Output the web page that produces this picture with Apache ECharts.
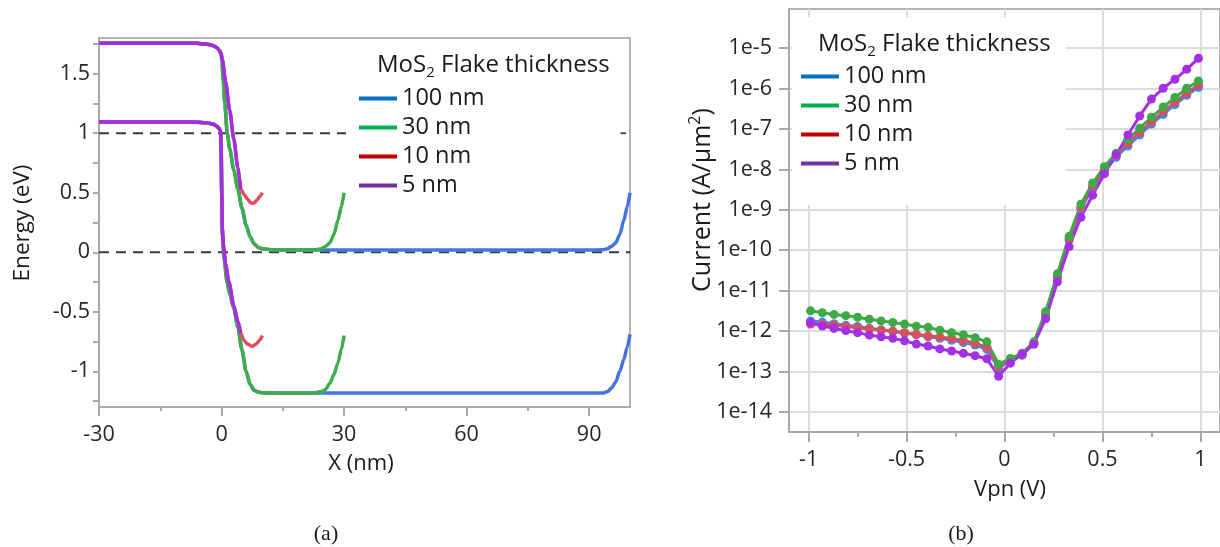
<!DOCTYPE html>
<html>
<head>
<meta charset="utf-8">
<script src="https://cdn.jsdelivr.net/npm/echarts@6/dist/echarts.min.js"></script>
<style>
html,body{margin:0;padding:0;background:#fff;}
#c{width:1220px;height:547px;}
</style>
</head>
<body>
<div id="c"></div>
<script>
// ---------- names & colours ----------
const thicknessNames = ['100 nm', '30 nm', '10 nm', '5 nm'];
const legendColors = ['#0070C0', '#00B050', '#C00000', '#7030A0'];
const bandColors = ['#4573E3', '#3DAE4A', '#DE4E5E', '#A02EE2'];
const ivColors = ['#4A84E4', '#3DAA45', '#D94F5C', '#A42FE5'];

// ---------- (a) band diagram, [x (nm), E (eV)] ----------
const cbLeft = [[-30,1.755],[-6,1.755],[-4,1.75],[-3,1.745],[-2,1.735],[-1.2,1.72],[-0.6,1.70],[-0.1,1.67]];
const vbLeft = [[-30,1.095],[-10,1.095],[-6,1.093],[-4,1.088],[-3,1.083],[-2,1.075],[-1.2,1.06],[-0.6,1.04],[-0.25,1.02],[-0.1,0.9],[0.05,0.5]];

const cb100R = [[0.1,1.6],[0.4,1.45],[0.8,1.25],[1.4,1.0],[2,0.87],[3,0.69],[4,0.53],[5,0.37],[6,0.23],[7,0.13],[8,0.07],[9,0.04],[10,0.03],[12,0.022],[15,0.02],[30,0.02],[60,0.02],[92,0.02],[93.5,0.022],[94.5,0.03],[95.5,0.05],[96.5,0.08],[97.5,0.15],[98.5,0.27],[99.3,0.38],[100,0.5]];
const vb100R = [[0.2,0.15],[0.6,-0.05],[1.4,-0.26],[2,-0.35],[3,-0.47],[4,-0.63],[5,-0.82],[6,-1.0],[7,-1.11],[8,-1.16],[9,-1.175],[10,-1.18],[15,-1.183],[60,-1.183],[93.5,-1.182],[94.5,-1.17],[95.5,-1.14],[96.5,-1.09],[97.5,-1.0],[98.5,-0.9],[99.3,-0.8],[100,-0.69]];

const cb30R = [[0.1,1.6],[0.4,1.45],[0.8,1.25],[1.4,1.0],[2,0.87],[3,0.69],[4,0.53],[5,0.37],[6,0.23],[7,0.13],[8,0.07],[9,0.04],[10,0.03],[12,0.022],[15,0.018],[20,0.018],[23,0.022],[24.5,0.03],[25.5,0.05],[26.5,0.08],[27.5,0.15],[28.5,0.27],[29.3,0.38],[30,0.5]];
const vb30R = [[0.2,0.15],[0.6,-0.05],[1.4,-0.26],[2,-0.35],[3,-0.47],[4,-0.63],[5,-0.82],[6,-1.0],[7,-1.11],[8,-1.16],[9,-1.175],[10,-1.18],[15,-1.185],[22,-1.185],[24.5,-1.17],[25.5,-1.15],[26.5,-1.1],[27.5,-1.03],[28.5,-0.93],[29.3,-0.82],[30,-0.7]];

const cb10R = [[0.2,1.62],[1,1.43],[2,1.19],[3,0.95],[4,0.71],[4.7,0.53],[5.5,0.485],[6.3,0.45],[7,0.42],[7.5,0.41],[8,0.415],[8.7,0.44],[9.4,0.47],[10,0.5]];
const vb10R = [[0.2,0.2],[0.5,0.05],[1,-0.1],[1.8,-0.25],[3,-0.45],[4,-0.58],[4.7,-0.68],[5.5,-0.74],[6.3,-0.77],[7.5,-0.79],[8.5,-0.77],[9.3,-0.74],[10,-0.70]];

const cb5R = [[0.2,1.62],[1,1.43],[2,1.19],[3,0.95],[4,0.71],[4.7,0.53]];
const vb5R = [[0.2,0.2],[0.5,0.05],[1,-0.1],[1.8,-0.25],[3,-0.45],[4,-0.58],[4.7,-0.68]];

// dashed reference levels (E = 1 eV is hidden behind the legend box between ~31 and ~98 nm)
const refLevels = [1, 0];
const refSpans = [[[-30, 30.6], [97.7, 99]], [[-30, 100]]];
const posTicks = [-30, 0, 30, 60, 90];
const posMinorTicks = [-15, 15, 45, 75];
const energyLabels = [-1, -0.5, 0, 0.5, 1, 1.5];
const energyTicks = [-1.25, -1, -0.75, -0.5, -0.25, 0, 0.25, 0.5, 0.75, 1, 1.25, 1.5, 1.75];

// ---------- (b) I-V curves ----------
const vpn = [-0.99,-0.93,-0.87,-0.81,-0.75,-0.69,-0.63,-0.57,-0.51,-0.45,-0.39,-0.33,-0.27,-0.21,-0.15,-0.09,
             -0.03,0.03,0.09,0.15,0.21,0.27,0.33,0.39,0.45,0.51,0.57,0.63,0.69,0.75,0.81,0.87,0.93,0.99];
const cur100 = [1.78e-12,1.66e-12,1.51e-12,1.38e-12,1.29e-12,1.17e-12,1.07e-12,9.8e-13,8.9e-13,8.1e-13,7.2e-13,6.6e-13,5.9e-13,5.2e-13,4.5e-13,3.5e-13,
                1.2e-13,1.9e-13,2.5e-13,5.0e-13,2.5e-12,2.1e-11,1.78e-10,1.05e-9,3.5e-9,9.3e-9,2.0e-8,3.8e-8,7.1e-8,1.32e-7,2.3e-7,4.0e-7,6.8e-7,1.07e-6];
const cur30 = [3.16e-12,2.82e-12,2.57e-12,2.40e-12,2.19e-12,1.95e-12,1.78e-12,1.62e-12,1.48e-12,1.32e-12,1.23e-12,1.05e-12,9.1e-13,8.1e-13,6.8e-13,5.4e-13,
               1.5e-13,2.1e-13,2.8e-13,5.4e-13,3.0e-12,2.6e-11,2.2e-10,1.38e-9,4.6e-9,1.17e-8,2.5e-8,5.6e-8,1.05e-7,1.95e-7,3.5e-7,6.0e-7,1.02e-6,1.55e-6];
const cur10 = [1.48e-12,1.45e-12,1.38e-12,1.29e-12,1.2e-12,1.12e-12,1.05e-12,9.8e-13,9.1e-13,8.3e-13,7.6e-13,7.1e-13,6.5e-13,5.8e-13,5.0e-13,4.0e-13,
               1.32e-13,1.9e-13,2.6e-13,5.1e-13,2.7e-12,2.2e-11,1.9e-10,1.15e-9,3.9e-9,1.02e-8,2.2e-8,4.4e-8,8.1e-8,1.51e-7,2.7e-7,4.6e-7,7.8e-7,1.23e-6];
const cur5 = [1.6e-12,1.33e-12,1.16e-12,1.02e-12,9.1e-13,7.9e-13,7.2e-13,6.6e-13,5.7e-13,4.75e-13,4.25e-13,3.6e-13,3.2e-13,2.8e-13,2.45e-13,2.05e-13,
              7.6e-14,1.6e-13,2.7e-13,4.7e-13,2.0e-12,1.66e-11,1.23e-10,6.5e-10,2.3e-9,7.8e-9,2.3e-8,7.1e-8,2.1e-7,5.5e-7,1.02e-6,1.7e-6,3.0e-6,5.6e-6];
const voltLabels = [-1, -0.5, 0, 0.5, 1];
const voltMinorTicks = [-0.75, -0.25, 0.25, 0.75];
const decadeExps = [-14, -13, -12, -11, -10, -9, -8, -7, -6, -5];

// ---------- build ----------
const FONT = "'Open Sans', 'Noto Sans', sans-serif";
const SERIF = "'Liberation Serif', 'DejaVu Serif', serif";
const AXIS_COLOR = '#a9a9a9';
const LABEL_COLOR = '#262626';
const TEXT_COLOR = '#1a1a1a';
const TICK_FS = 21.5;
const LEG_FS = 23.5;

const cbRight = [cb100R, cb30R, cb10R, cb5R];
const vbRight = [vb100R, vb30R, vb10R, vb5R];
const currents = [cur100, cur30, cur10, cur5];

const series = [];
refLevels.forEach(function (lvl, li) {
  refSpans[li].forEach(function (span, si) {
    series.push({
      type: 'line', name: 'ref' + lvl + '_' + si, xAxisIndex: 0, yAxisIndex: 0,
      data: [[span[0], lvl], [span[1], lvl]], symbol: 'none', silent: true, z: 1,
      lineStyle: { color: '#3a3a3a', width: 1.8, type: [10, 7] }
    });
  });
});
for (let k = 0; k < 4; k++) {
  [cbLeft.concat(cbRight[k]), vbLeft.concat(vbRight[k])].forEach(function (d) {
    series.push({
      type: 'line', name: thicknessNames[k], xAxisIndex: 0, yAxisIndex: 0,
      data: d, symbol: 'none', showSymbol: false, smooth: 0.25, smoothMonotone: 'x', z: 3,
      lineStyle: { color: bandColors[k], width: 3.5 }, itemStyle: { color: bandColors[k] }
    });
  });
}
[0, 2, 1, 3].forEach(function (k) {
  series.push({
    type: 'line', name: thicknessNames[k], xAxisIndex: 2, yAxisIndex: 1,
    data: vpn.map(function (v, i) { return [v, Math.log10(currents[k][i])]; }),
    symbol: 'circle', symbolSize: 9, showSymbol: true, z: 3,
    lineStyle: { color: ivColors[k], width: 3 }, itemStyle: { color: ivColors[k] }
  });
});

function legendData() {
  return thicknessNames.map(function (n, k) {
    return { name: n, itemStyle: { color: legendColors[k], borderWidth: 0 } };
  });
}
function legendCfg(left, top, padding) {
  return {
    left: left, top: top, orient: 'vertical', padding: padding, backgroundColor: '#ffffff',
    icon: 'rect', itemWidth: 38, itemHeight: 4, itemGap: 4, selectedMode: false,
    textStyle: { fontFamily: FONT, fontSize: LEG_FS, color: TEXT_COLOR, lineHeight: 25 },
    data: legendData()
  };
}
function axisLineCfg() { return { show: true, onZero: false, lineStyle: { color: AXIS_COLOR, width: 2 } }; }
function labelCfg(vals, margin, extra) {
  return Object.assign({ customValues: vals, fontFamily: FONT, fontSize: TICK_FS, color: LABEL_COLOR, margin: margin }, extra || {});
}
function tickCfg(vals, len) { return { show: true, customValues: vals, length: len, lineStyle: { color: AXIS_COLOR, width: 2 } }; }

const legendTitleRich = {
  a: { fontFamily: FONT, fontSize: 24, fontWeight: 'normal', color: TEXT_COLOR, lineHeight: 30, verticalAlign: 'middle' },
  s: { fontFamily: FONT, fontSize: 15, fontWeight: 'normal', color: TEXT_COLOR, lineHeight: 15, verticalAlign: 'bottom' }
};
function legendTitle(left, top) {
  return { text: '{a|MoS}{s|2}{a| Flake thickness}', left: left, top: top, padding: 0, z: 8,
           textStyle: { rich: legendTitleRich, fontFamily: FONT, fontSize: 24, fontWeight: 'normal', color: TEXT_COLOR } };
}
function txt(x, y, text, size, rot, family) {
  return {
    type: 'text', x: x, y: y, rotation: rot || 0, z: 5, silent: true,
    style: { text: text, fontFamily: family || FONT, fontSize: size, fill: TEXT_COLOR, align: 'center', verticalAlign: 'middle' }
  };
}

const option = {
  animation: false,
  backgroundColor: '#ffffff',
  grid: [
    { left: 99, top: 38, width: 531, height: 369, show: true, borderColor: '#b4b4b4', borderWidth: 2 },
    { left: 789, top: 9, width: 437, height: 423, show: true, borderColor: '#b4b4b4', borderWidth: 2 }
  ],
  xAxis: [
    { type: 'value', gridIndex: 0, min: -30, max: 100, position: 'bottom',
      axisLine: axisLineCfg(), axisTick: tickCfg(posTicks, 9), axisLabel: labelCfg(posTicks, 17), splitLine: { show: false } },
    { type: 'value', gridIndex: 0, min: -30, max: 100, position: 'bottom',
      axisLine: { show: false, onZero: false }, axisTick: tickCfg(posMinorTicks, 4), axisLabel: { show: false }, splitLine: { show: false } },
    { type: 'value', gridIndex: 1, min: -1.1, max: 1.1, splitNumber: 4, position: 'bottom',
      axisLine: axisLineCfg(), axisTick: tickCfg(voltLabels, 10), axisLabel: labelCfg(voltLabels, 17),
      splitLine: { show: true, lineStyle: { color: '#dcdcdc', width: 2 } } },
    { type: 'value', gridIndex: 1, min: -1.1, max: 1.1, position: 'bottom',
      axisLine: { show: false, onZero: false }, axisTick: tickCfg(voltMinorTicks, 5), axisLabel: { show: false }, splitLine: { show: false } }
  ],
  yAxis: [
    { type: 'value', gridIndex: 0, min: -1.3, max: 1.8,
      axisLine: axisLineCfg(), axisTick: tickCfg(energyTicks, 6), axisLabel: labelCfg(energyLabels, 9), splitLine: { show: false } },
    { type: 'value', gridIndex: 1, min: -14.5, max: -4.03, splitNumber: 10,
      axisLine: axisLineCfg(), axisTick: tickCfg(decadeExps, 10),
      axisLabel: labelCfg(decadeExps, 17, { formatter: function (v) { return '1e' + v; } }),
      splitLine: { show: true, lineStyle: { color: '#dcdcdc', width: 2 } } }
  ],
  title: [legendTitle(377, 50), legendTitle(818, 29)],
  legend: [
    legendCfg(346, 45, [41, 135, 6, 13]),
    legendCfg(792, 17, [47, 139, 29, 9])
  ],
  graphic: {
    elements: [
      txt(361, 464, 'X (nm)', 22),
      txt(23, 223, 'Energy (eV)', 22.5, Math.PI / 2),
      txt(1010, 490, 'Vpn (V)', 22),
      { type: 'text', x: 703, y: 200, rotation: Math.PI / 2, z: 5, silent: true,
        style: { text: '{b|Current (A/μm}{p|2}{b|)}', align: 'center', verticalAlign: 'middle',
          rich: {
            b: { fontFamily: FONT, fontSize: 25, fill: TEXT_COLOR, lineHeight: 32, verticalAlign: 'middle' },
            p: { fontFamily: FONT, fontSize: 16, fill: TEXT_COLOR, lineHeight: 16, verticalAlign: 'top' }
          } } },
      txt(326, 534, '(a)', 22, 0, SERIF),
      txt(961, 534, '(b)', 22, 0, SERIF)
    ]
  },
  series: series
};

const chart = echarts.init(document.getElementById('c'));
chart.setOption(option);
</script>
</body>
</html>
